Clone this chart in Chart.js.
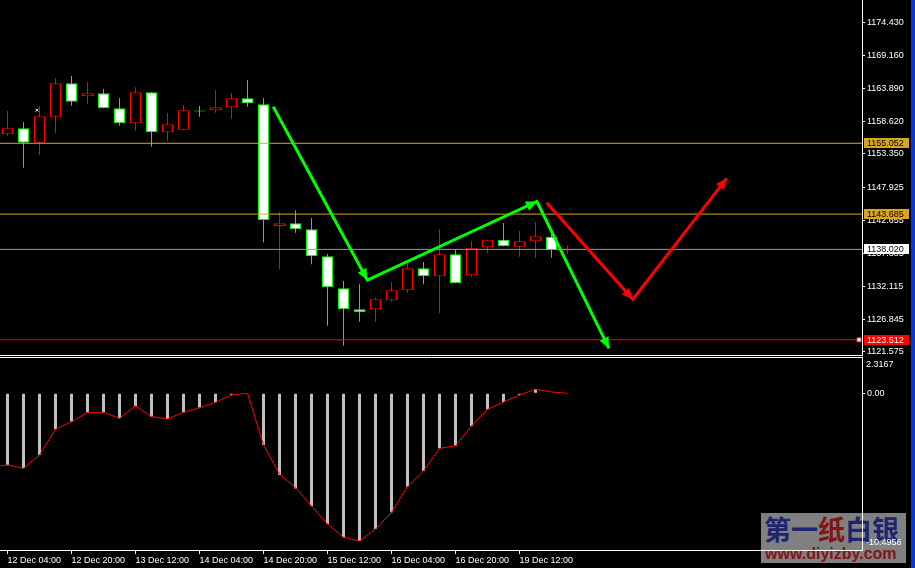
<!DOCTYPE html>
<html>
<head>
<meta charset="utf-8">
<script src="https://cdn.jsdelivr.net/npm/chart.js@4.4.1/dist/chart.umd.min.js"></script>
<style>
html, body { margin: 0; padding: 0; background: #000; }
#wrap { position: relative; width: 915px; height: 568px; overflow: hidden; background: #000; }
#priceChart { position: absolute; left: 0; top: 0; z-index: 1; }
#macdChart { position: absolute; left: 0; top: 357px; z-index: 1; }
#logo { position: absolute; left: 761px; top: 513px; width: 145px; height: 50px; background: #808080; z-index: 0; }
#logo .cn { position: absolute; left: 3px; top: 1px; font: bold 27px "Noto Sans CJK SC"; line-height: 30px; color: #1e2470; white-space: nowrap; }
#logo .cn .r { color: #821414; }
#logo .url { position: absolute; left: 4px; top: 32px; font: bold 16px "Liberation Sans"; line-height: 18px; color: #821414; white-space: nowrap; }
#edge { position: absolute; left: 911px; top: 0; width: 4px; height: 568px; background: #0a36d8; z-index: 3; }
</style>
</head>
<body>
<div id="wrap">
  <div id="logo"><div class="cn">第一<span class="r">纸</span>白银</div><div class="url">www.diyizby.com</div></div>
  <canvas id="priceChart" width="915" height="356"></canvas>
  <canvas id="macdChart" width="915" height="211"></canvas>
  <div id="edge"></div>
</div>
<script>
// H4 candles, 12 Dec 04:00 .. 19 Dec
const candleOpen  = [1156.49, 1157.46, 1155.15, 1159.32, 1164.68, 1162.59, 1163.07, 1160.67, 1158.26, 1163.24, 1156.81, 1157.23, 1160.31, 1160.35, 1160.83, 1162.27, 1161.31, 1141.78, 1142.21, 1141.25, 1136.91, 1131.78, 1128.40, 1128.40, 1129.85, 1131.45, 1134.99, 1133.70, 1137.23, 1133.86, 1138.36, 1139.58, 1138.45, 1139.32, 1140.06, 1137.86];
const candleHigh  = [1160.23, 1158.47, 1161.04, 1165.53, 1165.85, 1164.89, 1163.77, 1162.32, 1164.04, 1163.24, 1159.91, 1161.20, 1161.04, 1163.60, 1163.12, 1165.21, 1162.32, 1143.97, 1144.30, 1143.06, 1137.28, 1132.95, 1132.42, 1130.33, 1132.79, 1135.79, 1136.00, 1141.25, 1137.92, 1139.37, 1139.58, 1142.26, 1140.97, 1142.42, 1140.60, 1138.68];
const candleLow   = [1156.27, 1151.13, 1153.17, 1156.75, 1161.08, 1161.41, 1160.67, 1157.87, 1157.07, 1154.50, 1155.47, 1157.23, 1159.32, 1159.96, 1159.00, 1160.92, 1139.16, 1134.83, 1140.70, 1135.63, 1125.77, 1122.56, 1126.41, 1126.41, 1129.62, 1131.07, 1132.42, 1127.76, 1132.58, 1133.64, 1137.39, 1138.52, 1136.85, 1136.69, 1136.69, 1137.28];
const candleClose = [1157.46, 1155.15, 1159.38, 1164.68, 1161.73, 1163.07, 1160.67, 1158.26, 1163.24, 1156.81, 1158.10, 1160.35, 1160.15, 1160.83, 1162.27, 1161.47, 1142.74, 1142.21, 1141.25, 1136.91, 1131.93, 1128.40, 1127.92, 1130.01, 1131.45, 1134.99, 1133.70, 1137.23, 1132.58, 1138.29, 1139.58, 1138.52, 1139.32, 1140.12, 1137.92, 1138.02];

// time axis
const timeTickIdx = [0, 4, 8, 12, 16, 20, 24, 28, 32];
const timeLabels = ['12 Dec 04:00', '12 Dec 20:00', '13 Dec 12:00', '14 Dec 04:00', '14 Dec 20:00', '15 Dec 12:00', '16 Dec 04:00', '16 Dec 20:00', '19 Dec 12:00'];

// price scale labels
const priceTicks = [1174.430, 1169.160, 1163.890, 1158.620, 1153.350, 1147.925, 1142.655, 1137.385, 1132.115, 1126.845, 1121.575];

// horizontal levels: two orange lines, bid line, red support
const levelPrices = [1155.052, 1143.685, 1138.020, 1123.512];

// hand drawn arrows [bar index, price]
const arrowGreen = [[16.61, 1160.92], [22.49, 1133.11], [33.09, 1145.71], [37.59, 1122.14]];
const arrowRed = [[33.70, 1145.51], [39.08, 1130.01], [44.95, 1149.43]];
const markPoints = [[1.84, 1160.36]];

// MACD sub window
const macdHist = [-4.78, -5.00, -4.12, -2.40, -1.89, -1.28, -1.27, -1.67, -0.88, -1.56, -1.71, -1.27, -0.95, -0.60, -0.11, -0.02, -3.45, -5.45, -6.35, -7.52, -8.72, -9.61, -9.85, -9.05, -7.94, -6.23, -5.18, -3.67, -3.50, -2.18, -1.07, -0.58, -0.11, 0.27, null, null];
const macdSignal = [-4.78, -5.00, -4.12, -2.40, -1.89, -1.27, -1.27, -1.67, -0.84, -1.56, -1.71, -1.27, -0.97, -0.60, -0.11, 0.00, -3.45, -5.40, -6.29, -7.52, -8.72, -9.61, -9.85, -9.05, -7.94, -6.23, -5.18, -3.67, -3.50, -2.18, -1.07, -0.58, -0.11, 0.27, 0.09, 0.00];
const macdPrev = -4.89;
const macdMax = 2.3167;
const macdMin = -10.4956;

// ---- layout ----
const X_MIN = -0.46875, X_MAX = 53.40625;
const AXIS_W = 53;
const FONT = { family: 'Liberation Sans', size: 9 };
const levelStyle = [
  { line: '#daa520', box: '#daa520', text: '#000' },
  { line: '#daa520', box: '#daa520', text: '#000' },
  { line: '#9a9a9a', box: '#ffffff', text: '#000' },
  { line: '#ff0000', box: '#ff0000', text: '#fff' }
];

Chart.defaults.font.family = 'Liberation Sans';

const idx = candleOpen.map((_, i) => i);
const isUp = i => candleClose[i] >= candleOpen[i];
const toXY = pts => pts.map(p => ({ x: p[0], y: p[1] }));

function fixAxis(w, h) {
  return function (s) {
    if (w) s.width = w;
    if (h) s.height = h;
    s.paddingTop = 0; s.paddingBottom = 0; s.paddingLeft = 0; s.paddingRight = 0;
  };
}

// pane borders
const paneBorder = {
  id: 'paneBorder',
  afterDraw(chart, args, opts) {
    const { ctx, chartArea } = chart;
    ctx.save();
    ctx.strokeStyle = '#fff';
    ctx.lineWidth = 1;
    ctx.beginPath();
    const y = opts.edge === 'top' ? chartArea.top + 0.5 : chartArea.bottom - 0.5;
    ctx.moveTo(0, y);
    ctx.lineTo(chartArea.right + 1, y);
    ctx.stroke();
    ctx.restore();
  }
};

// arrow heads at the end of every drawn segment
const arrowHeads = {
  id: 'arrowHeads',
  afterDatasetsDraw(chart) {
    const { ctx, scales: { x, y } } = chart;
    [[arrowGreen, '#00ff00'], [arrowRed, '#ff0000']].forEach(([pts, col]) => {
      for (let k = 1; k < pts.length; k++) {
        const x0 = x.getPixelForValue(pts[k - 1][0]), y0 = y.getPixelForValue(pts[k - 1][1]);
        const x1 = x.getPixelForValue(pts[k][0]), y1 = y.getPixelForValue(pts[k][1]);
        const a = Math.atan2(y1 - y0, x1 - x0);
        const len = 11, half = 5;
        ctx.save();
        ctx.fillStyle = col;
        ctx.beginPath();
        ctx.moveTo(x1, y1);
        ctx.lineTo(x1 - len * Math.cos(a) + half * Math.sin(a), y1 - len * Math.sin(a) - half * Math.cos(a));
        ctx.lineTo(x1 - len * Math.cos(a) - half * Math.sin(a), y1 - len * Math.sin(a) + half * Math.cos(a));
        ctx.closePath();
        ctx.fill();
        ctx.restore();
      }
    });
  }
};

// price tags on the right axis
const levelTags = {
  id: 'levelTags',
  afterDraw(chart) {
    const { ctx, chartArea, scales: { y } } = chart;
    ctx.save();
    ctx.font = '9px "Liberation Sans"';
    ctx.textBaseline = 'middle';
    levelPrices.forEach((p, i) => {
      const py = Math.round(y.getPixelForValue(p));
      ctx.fillStyle = levelStyle[i].box;
      ctx.fillRect(chartArea.right + 2, py - 5, 45, 10);
      ctx.fillStyle = levelStyle[i].text;
      ctx.fillText(p.toFixed(3), chartArea.right + 5, py + 0.5);
    });
    ctx.restore();
  }
};

// MACD max / min labels
const macdRange = {
  id: 'macdRange',
  afterDraw(chart) {
    const { ctx, chartArea } = chart;
    ctx.save();
    ctx.font = '9px "Liberation Sans"';
    ctx.fillStyle = '#fff';
    ctx.textBaseline = 'middle';
    ctx.fillText(macdMax.toFixed(4), chartArea.right + 4, chartArea.top + 7.5);
    ctx.fillText(macdMin.toFixed(4), chartArea.right + 4, chartArea.bottom - 7.5);
    ctx.restore();
  }
};

const levelDatasets = levelPrices.map((p, i) => {
  const last = i === 3 ? 53.22 : X_MAX;
  return {
    type: 'line',
    data: [{ x: X_MIN, y: p }, { x: last, y: p }],
    borderColor: levelStyle[i].line,
    borderWidth: 1,
    pointRadius: i === 3 ? [0, 3] : 0,
    pointStyle: 'rect',
    pointBackgroundColor: '#fff',
    pointBorderColor: '#ff0000',
    pointBorderWidth: 1,
    order: 2
  };
});

new Chart(document.getElementById('priceChart'), {
  type: 'bar',
  data: {
    datasets: [
      {
        label: 'wick',
        data: idx.map(i => ({ x: i, y: [candleLow[i], candleHigh[i]] })),
        backgroundColor: idx.map(i => isUp(i) ? '#ff0000' : '#00ff00'),
        barThickness: 1,
        inflateAmount: 0,
        grouped: false,
        order: 4
      },
      {
        label: 'body',
        data: idx.map(i => ({ x: i, y: [candleOpen[i], candleClose[i]] })),
        backgroundColor: idx.map(i => isUp(i) ? '#000000' : '#ffffff'),
        borderColor: idx.map(i => isUp(i) ? '#ff0000' : '#00ff00'),
        borderWidth: 1,
        borderSkipped: false,
        barThickness: 11,
        inflateAmount: 0,
        grouped: false,
        order: 3
      },
      ...levelDatasets,
      {
        type: 'line',
        data: toXY(arrowGreen),
        borderColor: '#00ff00',
        borderWidth: 3,
        pointRadius: 0,
        tension: 0,
        order: 1
      },
      {
        type: 'line',
        data: toXY(arrowRed),
        borderColor: '#ff0000',
        borderWidth: 3,
        pointRadius: 0,
        tension: 0,
        order: 1
      },
      {
        type: 'line',
        data: toXY(markPoints),
        showLine: false,
        pointStyle: 'crossRot',
        pointRadius: 2,
        pointBorderColor: '#fff',
        pointBorderWidth: 1,
        order: 0
      }
    ]
  },
  options: {
    responsive: false,
    animation: false,
    events: [],
    layout: { padding: 0, autoPadding: false },
    plugins: {
      legend: { display: false },
      tooltip: { enabled: false },
      paneBorder: { edge: 'bottom' }
    },
    scales: {
      x: {
        type: 'linear',
        min: X_MIN,
        max: X_MAX,
        offset: false,
        display: false,
        grid: { offset: false }
      },
      y: {
        position: 'right',
        min: 1120.91,
        max: 1178.05,
        bounds: 'data',
        beginAtZero: false,
        afterFit: fixAxis(AXIS_W, 0),
        afterBuildTicks: s => { s.ticks = priceTicks.map(v => ({ value: v })); },
        ticks: {
          color: '#fff',
          font: FONT,
          padding: 2,
          autoSkip: false,
          callback: v => Number(v).toFixed(3)
        },
        grid: { drawOnChartArea: false, tickLength: 3, color: '#fff' },
        border: { color: '#fff', width: 1 }
      }
    }
  },
  plugins: [paneBorder, arrowHeads, levelTags]
});

new Chart(document.getElementById('macdChart'), {
  type: 'bar',
  data: {
    datasets: [
      {
        data: idx.map(i => ({ x: i, y: macdHist[i] })),
        backgroundColor: '#c0c0c0',
        barThickness: 3,
        inflateAmount: 0,
        grouped: false,
        order: 2
      },
      {
        type: 'line',
        data: [{ x: -1, y: macdPrev }].concat(idx.map(i => ({ x: i, y: macdSignal[i] }))),
        borderColor: '#ff0000',
        borderWidth: 1,
        pointRadius: 0,
        tension: 0,
        order: 1
      }
    ]
  },
  options: {
    responsive: false,
    animation: false,
    events: [],
    layout: { padding: 0, autoPadding: false },
    plugins: {
      legend: { display: false },
      tooltip: { enabled: false },
      paneBorder: { edge: 'top' }
    },
    scales: {
      x: {
        type: 'linear',
        min: X_MIN,
        max: X_MAX,
        offset: false,
        afterFit: fixAxis(0, 18),
        afterBuildTicks: s => { s.ticks = timeTickIdx.map(v => ({ value: v })); },
        ticks: {
          color: '#fff',
          font: FONT,
          align: 'start',
          maxRotation: 0,
          autoSkip: false,
          padding: 1,
          callback: (v, i) => timeLabels[i]
        },
        grid: { drawOnChartArea: false, tickLength: 4, color: '#fff', offset: false },
        border: { color: '#fff', width: 1 }
      },
      y: {
        position: 'right',
        min: -10.45,
        max: 2.42,
        bounds: 'data',
        beginAtZero: false,
        afterFit: fixAxis(AXIS_W, 0),
        afterBuildTicks: s => { s.ticks = [{ value: 0 }]; },
        ticks: {
          color: '#fff',
          font: FONT,
          padding: 2,
          autoSkip: false,
          callback: v => Number(v).toFixed(2)
        },
        grid: { drawOnChartArea: false, tickLength: 3, color: '#fff' },
        border: { color: '#fff', width: 1 }
      }
    }
  },
  plugins: [paneBorder, macdRange]
});
</script>
</body>
</html>
